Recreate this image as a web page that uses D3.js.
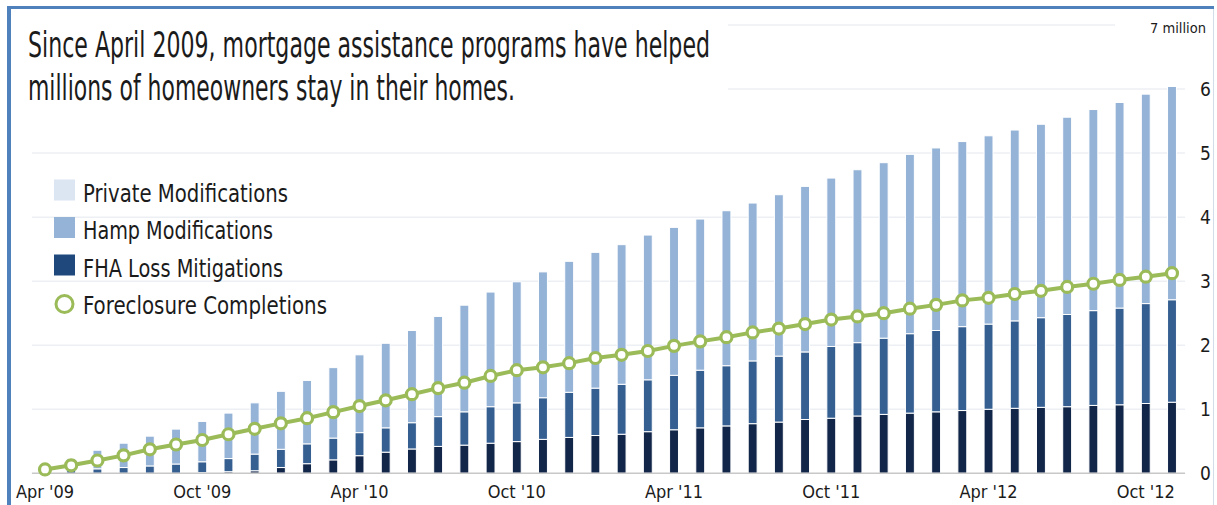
<!DOCTYPE html>
<html>
<head>
<meta charset="utf-8">
<script src="https://cdn.jsdelivr.net/npm/d3@7"></script>
<style>
  html, body { margin: 0; padding: 0; background: #fff; }
  #chart-container { width: 1217px; height: 505px; }
  text { font-family: "Liberation Sans Narrow", "DejaVu Sans Condensed", "Roboto", sans-serif; fill: #1b1b1b; }
</style>
</head>
<body>
<div id="chart-container"></div>
<script>
// months shown as bars (Apr '09 .. Nov '12)
const months = ["Apr '09","May '09","Jun '09","Jul '09","Aug '09","Sep '09","Oct '09","Nov '09","Dec '09",
  "Jan '10","Feb '10","Mar '10","Apr '10","May '10","Jun '10","Jul '10","Aug '10","Sep '10","Oct '10","Nov '10","Dec '10",
  "Jan '11","Feb '11","Mar '11","Apr '11","May '11","Jun '11","Jul '11","Aug '11","Sep '11","Oct '11","Nov '11","Dec '11",
  "Jan '12","Feb '12","Mar '12","Apr '12","May '12","Jun '12","Jul '12","Aug '12","Sep '12","Oct '12","Nov '12"]

// cumulative counts in millions, one value per month (bottom to top of the stack)
const hampMods = [0,0,0,0,0,0,0.01,0.025,0.04,0.09,0.15,0.21,0.275,0.33,0.38,0.42,0.44,0.47,0.495,0.53,0.56,0.59,
  0.61,0.65,0.68,0.71,0.74,0.775,0.80,0.84,0.86,0.895,0.92,0.94,0.96,0.98,1.00,1.015,1.03,1.04,1.06,1.07,1.09,1.11]
const fhaLossMitigations = [0.01,0.05,0.07,0.09,0.115,0.145,0.17,0.205,0.26,0.285,0.31,0.34,0.36,0.38,0.41,0.465,
  0.52,0.57,0.605,0.65,0.705,0.74,0.78,0.81,0.85,0.90,0.94,0.98,1.03,1.055,1.12,1.145,1.19,1.24,1.27,1.31,1.33,
  1.365,1.40,1.44,1.48,1.51,1.56,1.60]
const privateMods = [0.02,0.18,0.29,0.38,0.465,0.545,0.63,0.71,0.80,0.905,0.99,1.10,1.215,1.32,1.44,1.565,1.665,
  1.79,1.89,1.965,2.045,2.12,2.18,2.26,2.31,2.36,2.42,2.465,2.52,2.585,2.63,2.70,2.74,2.80,2.85,2.89,2.94,2.98,
  3.02,3.08,3.14,3.21,3.27,3.33]
const foreclosures = [0.06,0.125,0.20,0.28,0.375,0.45,0.52,0.61,0.695,0.78,0.86,0.955,1.05,1.14,1.235,1.33,1.415,
  1.52,1.61,1.655,1.72,1.80,1.85,1.91,1.99,2.06,2.125,2.20,2.26,2.33,2.40,2.45,2.50,2.57,2.63,2.70,2.74,2.80,
  2.85,2.91,2.96,3.02,3.07,3.125]

const xTickLabels = ["Apr '09","Oct '09","Apr '10","Oct '10","Apr '11","Oct '11","Apr '12","Oct '12"]
const yTickValues = [0,1,2,3,4,5,6]
const yTopLabel = "7 million"
const titleLines = ["Since April 2009, mortgage assistance programs have helped",
  "millions of homeowners stay in their homes."]
const legendItems = ["Private Modifications","Hamp Modifications","FHA Loss Mitigations","Foreclosure Completions"]

const svgWidth = 1217
const svgHeight = 505
const plot = { left: 31.9, right: 1185.1, top: 25, bottom: 473.3 }
const barColors = { hamp: "#12264a", fha: "#365f91", priv: "#95b3d7" }
const legendColors = ["#dce6f2", "#95b3d7", "#1f497d"]
const green = "#9bbb59"

const svg = d3.select("#chart-container").append("svg")
  .attr("width", svgWidth)
  .attr("height", svgHeight)

// blue frame on top and left
svg.append("rect").attr("x", 7).attr("y", 6).attr("width", 1207).attr("height", 3).attr("fill", "#4f81bd")
svg.append("rect").attr("x", 7).attr("y", 6).attr("width", 4).attr("height", svgHeight - 6).attr("fill", "#4f81bd")
svg.append("line").attr("x1", 1213.5).attr("y1", 9).attr("x2", 1213.5).attr("y2", svgHeight)
  .attr("stroke", "#d3dde9").attr("stroke-width", 1)

//scales
const xScale = d3.scaleBand()
  .domain(months)
  .range([plot.left, plot.right])
  .paddingInner(0.66)
  .paddingOuter(0.33)
const yScale = d3.scaleLinear()
  .domain([0, 7])
  .range([plot.bottom, plot.top])
const cx = m => xScale(m) + xScale.bandwidth() / 2

// gridlines (the top two stop short of the title and the unit label)
const grid = svg.append("g").attr("class", "grid")
d3.range(1, 8).forEach(v => {
  grid.append("line")
    .attr("x1", v >= 6 ? 728 : plot.left)
    .attr("x2", v === 7 ? 1115 : plot.right)
    .attr("y1", yScale(v)).attr("y2", yScale(v))
    .attr("stroke", "#eceff3").attr("stroke-width", 1.5)
})

// stacked bars
const table = months.map((m, i) => ({ month: m, hamp: hampMods[i], fha: fhaLossMitigations[i], priv: privateMods[i] }))
const stacked = d3.stack().keys(["hamp", "fha", "priv"])(table)

stacked.forEach(layer => {
  svg.append("g").attr("class", "layer-" + layer.key)
    .selectAll("rect")
    .data(layer.filter(d => d[1] - d[0] > 0))
    .join("rect")
    .attr("x", d => xScale(d.data.month))
    .attr("width", xScale.bandwidth())
    .attr("y", d => yScale(d[1]))
    .attr("height", d => yScale(d[0]) - yScale(d[1]))
    .attr("fill", barColors[layer.key])
    .attr("stroke", "#fff")
    .attr("stroke-width", 1)
})

// baseline
svg.append("line")
  .attr("x1", plot.left).attr("x2", plot.right)
  .attr("y1", yScale(0)).attr("y2", yScale(0))
  .attr("stroke", "#c8c8c8").attr("stroke-width", 1.5)

// foreclosure line with hollow markers
const line = d3.line().x((d, i) => cx(months[i])).y(d => yScale(d))
svg.append("path")
  .datum(foreclosures)
  .attr("d", line)
  .attr("fill", "none")
  .attr("stroke", green)
  .attr("stroke-width", 4)
svg.append("g").selectAll("circle")
  .data(foreclosures)
  .join("circle")
  .attr("cx", (d, i) => cx(months[i]))
  .attr("cy", d => yScale(d))
  .attr("r", 5.5)
  .attr("fill", "#fff")
  .attr("stroke", green)
  .attr("stroke-width", 3.2)

// x axis
const xAxis = d3.axisBottom(xScale).tickValues(xTickLabels).tickSize(0).tickPadding(0)
const xg = svg.append("g")
  .attr("transform", "translate(0," + 498 + ")")
  .call(xAxis)
xg.select(".domain").remove()
xg.selectAll("text").attr("dy", 0).attr("font-size", 18).style("font-family", null).attr("fill", "#1b1b1b")

// y axis on the right
const yAxis = d3.axisRight(yScale).tickValues(yTickValues).tickFormat(d3.format("d")).tickSize(0).tickPadding(0)
const yg = svg.append("g")
  .attr("transform", "translate(1205.5,0)")
  .call(yAxis)
yg.select(".domain").remove()
yg.selectAll("text").attr("text-anchor", "middle").attr("x", 0).attr("dy", "0.35em")
  .attr("font-size", 19).style("font-family", null).attr("fill", "#1b1b1b")

// unit label, anchored at its right end so it stays inside the frame
svg.append("text")
  .attr("x", 1206).attr("y", 33)
  .attr("text-anchor", "end")
  .attr("font-size", 14.5)
  .text(yTopLabel)

// title
const titleWidths = [682, 487]
titleLines.forEach((t, i) => {
  svg.append("text")
    .attr("x", 28).attr("y", 57 + i * 42.5)
    .attr("font-size", 35)
    .attr("textLength", titleWidths[i]).attr("lengthAdjust", "spacingAndGlyphs")
    .text(t)
})

//legend
const legendWidths = [205, 190, 200, 244]
const legend = svg.append("g").attr("class", "legend")
legendItems.forEach((name, i) => {
  const rowY = 190 + i * 37.5
  if (i < 3) {
    legend.append("rect")
      .attr("x", 54).attr("y", rowY - 10.5)
      .attr("width", 21).attr("height", 21)
      .attr("fill", legendColors[i])
  } else {
    legend.append("circle")
      .attr("cx", 64.5).attr("cy", rowY + 1.5)
      .attr("r", 8.5)
      .attr("fill", "#fff").attr("stroke", green).attr("stroke-width", 3)
  }
  legend.append("text")
    .attr("x", 83).attr("y", rowY + 11.5)
    .attr("font-size", 25)
    .attr("textLength", legendWidths[i]).attr("lengthAdjust", "spacingAndGlyphs")
    .text(name)
})
</script>
</body>
</html>
